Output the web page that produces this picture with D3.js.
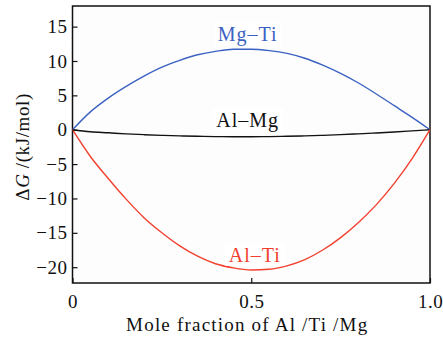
<!DOCTYPE html>
<html>
<head>
<meta charset="utf-8">
<script src="https://cdn.jsdelivr.net/npm/d3@7"></script>
<style>
  body { margin: 0; background: #fff; }
  svg text { font-family: "Liberation Serif", "Times New Roman", serif; }
</style>
</head>
<body>
<div id="chart"></div>
<script>
// mole fraction (x axis)
var fraction = [0, 0.05, 0.1, 0.15, 0.2, 0.25, 0.3, 0.35, 0.4, 0.45, 0.5,
                0.55, 0.6, 0.65, 0.7, 0.75, 0.8, 0.85, 0.9, 0.95, 1.0];

// Gibbs free energy of mixing, kJ/mol
var mgTi = [0, 2.6, 4.6, 6.3, 7.8, 9.1, 10.1, 10.9, 11.4, 11.7, 11.7,
            11.5, 11.1, 10.4, 9.4, 8.2, 6.8, 5.2, 3.5, 1.8, 0];
var alMg = [0, -0.3, -0.45, -0.6, -0.72, -0.82, -0.9, -0.96, -1.0, -1.02, -1.02,
            -1.0, -0.96, -0.9, -0.82, -0.72, -0.6, -0.47, -0.33, -0.17, 0];
var alTi = [0, -3.9, -7.1, -10.1, -12.8, -15.0, -16.9, -18.4, -19.5, -20.1, -20.4,
            -20.3, -19.8, -18.9, -17.5, -15.7, -13.5, -10.9, -7.8, -4.2, 0];

var seriesNames = ["Mg\u2013Ti", "Al\u2013Mg", "Al\u2013Ti"];
var seriesColors = ["#3b62c2", "#111111", "#f2402e"];

var yTicks = [-20, -15, -10, -5, 0, 5, 10, 15];
var xTicks = [0, 0.5, 1.0];

// set the dimensions and margins of the graph
var margin = {top: 6, right: 13, bottom: 54, left: 72.5},
    width = 443 - margin.left - margin.right,
    height = 337 - margin.top - margin.bottom;

var x = d3.scaleLinear().domain([0, 1]).range([0, width]);
var y = d3.scaleLinear().domain([-22.3, 18]).range([height, 0]);

var svg = d3.select("#chart").append("svg")
    .attr("width", 443)
    .attr("height", 337)
  .append("g")
    .attr("transform", "translate(" + margin.left + "," + margin.top + ")");

// frame
svg.append("rect")
    .attr("width", width)
    .attr("height", height)
    .attr("fill", "#fdfdfd")
    .attr("stroke", "#111")
    .attr("stroke-width", 1.5);

var valueline = d3.line()
    .x(function(d) { return x(d[0]); })
    .y(function(d) { return y(d[1]); })
    .curve(d3.curveMonotoneX);

[mgTi, alMg, alTi].forEach(function(vals, i) {
  svg.append("path")
      .datum(d3.zip(fraction, vals))
      .attr("fill", "none")
      .attr("stroke", seriesColors[i])
      .attr("stroke-width", 1.4)
      .attr("d", valueline);
});

var serif = "'Liberation Serif', 'Times New Roman', serif";

// Y axis, ticks inside
var yAxis = svg.append("g")
    .call(d3.axisLeft(y).tickValues(yTicks).tickSize(-5).tickPadding(5));
yAxis.select(".domain").remove();
yAxis.attr("font-family", null);
yAxis.selectAll("line").attr("stroke", "#111").attr("stroke-width", 1.2);
yAxis.selectAll("text").attr("font-size", 19).attr("fill", "#111")
    .style("font-family", serif).style("letter-spacing", "0.5px");

// X axis, ticks inside
var xAxis = svg.append("g")
    .attr("transform", "translate(0," + height + ")")
    .call(d3.axisBottom(x).tickValues(xTicks).tickSize(-5).tickPadding(12)
        .tickFormat(function(d) { return d === 0 ? "0" : d3.format(".1f")(d); }));
xAxis.select(".domain").remove();
xAxis.attr("font-family", null);
xAxis.selectAll("line").attr("stroke", "#111").attr("stroke-width", 1.2);
xAxis.selectAll("text").attr("font-size", 19).attr("fill", "#111")
    .style("font-family", serif).style("letter-spacing", "0.5px");

// series labels with white background
var labelPos = [[0.49, 12.9], [0.49, 0.4], [0.51, -19.2]];
labelPos.forEach(function(p, i) {
  var g = svg.append("g");
  var t = g.append("text")
      .attr("x", x(p[0]))
      .attr("y", y(p[1]))
      .attr("text-anchor", "middle")
      .attr("font-size", 20)
      .attr("fill", seriesColors[i])
      .style("letter-spacing", "1px")
      .text(seriesNames[i]);
  var bb = t.node().getBBox();
  g.insert("rect", "text")
      .attr("x", bb.x - 4)
      .attr("y", bb.y)
      .attr("width", bb.width + 8)
      .attr("height", bb.height)
      .attr("fill", "#fff");
});

// text label for the x axis
svg.append("text")
    .attr("x", width / 2 - 4)
    .attr("y", height + 48)
    .attr("text-anchor", "middle")
    .attr("font-size", 19)
    .attr("fill", "#111")
    .style("letter-spacing", "1.2px")
    .text("Mole fraction of Al /Ti /Mg");

// text label for the y axis
var yl = svg.append("text")
    .attr("transform", "rotate(-90)")
    .attr("x", -(y(-2.5)))
    .attr("y", -margin.left + 29)
    .attr("text-anchor", "middle")
    .attr("font-size", 19)
    .attr("fill", "#111")
    .style("letter-spacing", "0.6px");
yl.append("tspan").text("\u0394");
yl.append("tspan").attr("font-style", "italic").text("G");
yl.append("tspan").text(" /(kJ/mol)");
</script>
</body>
</html>
